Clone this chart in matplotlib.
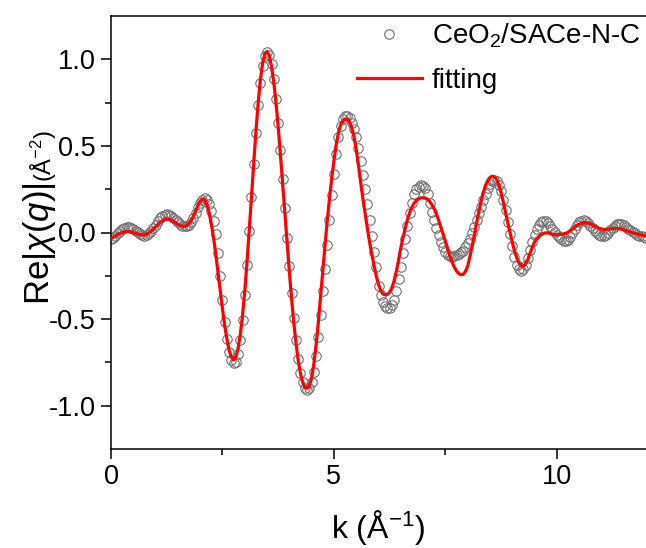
import numpy as np
import matplotlib
matplotlib.use("Agg")
import matplotlib.pyplot as plt

plt.rcParams["font.family"] = ["Liberation Sans", "DejaVu Sans"]
plt.rcParams["mathtext.fontset"] = "custom"
plt.rcParams["mathtext.rm"] = "Liberation Sans"
plt.rcParams["mathtext.it"] = "Liberation Sans:italic"

# k grid of the measured spectrum (0.05 A^-1 steps, 0..12)
k = np.round(np.arange(241) * 0.05, 2)

# measured Re|chi(q)| (open circles)
data = [
    -0.040, -0.032, -0.020, -0.005, 0.010, 0.020, 0.027, 0.030, 0.030, 0.025,
    0.018, 0.010, 0.002, -0.008, -0.016, -0.020, -0.015, -0.005, 0.008, 0.025,
    0.045, 0.065, 0.082, 0.095, 0.103, 0.106, 0.103, 0.095, 0.085, 0.073,
    0.060, 0.048, 0.040, 0.036, 0.038, 0.046, 0.060, 0.085, 0.115, 0.145,
    0.172, 0.190, 0.197, 0.190, 0.165, 0.125, 0.065, -0.010, -0.120, -0.250,
    -0.390, -0.515, -0.615, -0.690, -0.735, -0.755, -0.745, -0.700, -0.620, -0.505,
    -0.360, -0.185, 0.010, 0.205, 0.395, 0.575, 0.735, 0.865, 0.960, 1.020,
    1.040, 1.025, 0.970, 0.885, 0.770, 0.630, 0.475, 0.310, 0.140, -0.030,
    -0.195, -0.350, -0.495, -0.620, -0.730, -0.810, -0.865, -0.898, -0.908, -0.895,
    -0.865, -0.805, -0.715, -0.605, -0.475, -0.340, -0.210, -0.070, 0.075, 0.215,
    0.340, 0.455, 0.550, 0.615, 0.655, 0.670, 0.672, 0.660, 0.635, 0.600,
    0.550, 0.485, 0.410, 0.330, 0.250, 0.165, 0.075, -0.020, -0.110, -0.200,
    -0.310, -0.360, -0.400, -0.425, -0.435, -0.435, -0.420, -0.390, -0.340, -0.270,
    -0.200, -0.120, -0.040, 0.040, 0.110, 0.170, 0.220, 0.250, 0.265, 0.272,
    0.270, 0.255, 0.220, 0.170, 0.120, 0.070, 0.025, -0.015, -0.055, -0.085,
    -0.110, -0.128, -0.137, -0.140, -0.138, -0.132, -0.125, -0.115, -0.105, -0.085,
    -0.060, -0.035, -0.005, 0.030, 0.070, 0.110, 0.150, 0.190, 0.225, 0.255,
    0.280, 0.295, 0.302, 0.298, 0.275, 0.240, 0.190, 0.130, 0.060, -0.010,
    -0.080, -0.140, -0.185, -0.212, -0.222, -0.210, -0.185, -0.145, -0.100, -0.055,
    -0.015, 0.020, 0.045, 0.060, 0.066, 0.065, 0.055, 0.040, 0.022, 0.005,
    -0.012, -0.027, -0.040, -0.048, -0.050, -0.042, -0.025, -0.003, 0.020, 0.042,
    0.058, 0.068, 0.070, 0.066, 0.055, 0.040, 0.024, 0.010, -0.003, -0.013,
    -0.018, -0.018, -0.012, -0.002, 0.012, 0.028, 0.040, 0.047, 0.050, 0.048,
    0.042, 0.033, 0.022, 0.012, 0.003, -0.005, -0.012, -0.018, -0.023, -0.027,
    -0.030,
]

# fitted curve (red line), same k grid
fit = [
    -0.035, -0.028, -0.020, -0.012, -0.005, 0.000, 0.003, 0.005, 0.005, 0.003,
    -0.001, -0.005, -0.009, -0.012, -0.014, -0.014, -0.010, -0.002, 0.008, 0.020,
    0.033, 0.046, 0.058, 0.068, 0.075, 0.078, 0.077, 0.072, 0.065, 0.056,
    0.047, 0.040, 0.036, 0.035, 0.040, 0.052, 0.070, 0.095, 0.125, 0.155,
    0.180, 0.193, 0.190, 0.165, 0.115, 0.050, -0.030, -0.125, -0.230, -0.340,
    -0.440, -0.535, -0.615, -0.680, -0.720, -0.735, -0.720, -0.670, -0.590, -0.480,
    -0.340, -0.175, 0.010, 0.200, 0.395, 0.580, 0.745, 0.880, 0.975, 1.030,
    1.045, 1.020, 0.960, 0.870, 0.750, 0.610, 0.450, 0.280, 0.110, -0.060,
    -0.225, -0.380, -0.520, -0.640, -0.740, -0.815, -0.865, -0.893, -0.900, -0.885,
    -0.840, -0.760, -0.650, -0.520, -0.375, -0.225, -0.075, 0.065, 0.195, 0.310,
    0.415, 0.505, 0.575, 0.620, 0.645, 0.655, 0.656, 0.640, 0.605, 0.555,
    0.480, 0.390, 0.290, 0.195, 0.110, 0.025, -0.055, -0.125, -0.190, -0.250,
    -0.300, -0.335, -0.355, -0.360, -0.358, -0.345, -0.320, -0.280, -0.225, -0.160,
    -0.090, -0.030, 0.025, 0.075, 0.115, 0.145, 0.170, 0.185, 0.195, 0.200,
    0.200, 0.198, 0.192, 0.178, 0.160, 0.135, 0.105, 0.070, 0.030, -0.010,
    -0.050, -0.095, -0.135, -0.170, -0.200, -0.222, -0.237, -0.244, -0.242, -0.225,
    -0.195, -0.140, -0.080, -0.015, 0.055, 0.120, 0.180, 0.230, 0.270, 0.300,
    0.318, 0.325, 0.322, 0.305, 0.275, 0.230, 0.175, 0.115, 0.055, 0.000,
    -0.055, -0.105, -0.145, -0.175, -0.192, -0.195, -0.180, -0.155, -0.120, -0.085,
    -0.055, -0.035, -0.022, -0.012, -0.005, -0.002, -0.002, -0.005, -0.010, -0.013,
    -0.013, -0.012, -0.010, -0.008, -0.005, 0.002, 0.010, 0.020, 0.030, 0.040,
    0.048, 0.053, 0.056, 0.057, 0.055, 0.050, 0.043, 0.036, 0.030, 0.024,
    0.020, 0.018, 0.018, 0.019, 0.021, 0.023, 0.024, 0.024, 0.022, 0.019,
    0.015, 0.011, 0.007, 0.003, -0.001, -0.005, -0.009, -0.012, -0.015, -0.018,
    -0.020,
]

xticks = [0, 5, 10]
yticks = [-1.0, -0.5, 0.0, 0.5, 1.0]

fig = plt.figure(figsize=(6.46, 5.48), dpi=100)
ax = fig.add_axes([111 / 646, 1 - 449 / 548, 535 / 646, 433 / 548])

ax.plot(k, data, "o", ms=6.8, mfc="none", mec="#707070", mew=0.8,
        label="CeO$_2$/SACe-N-C", zorder=2)
ax.plot(k, fit, "-", color="#ff0000", lw=2.3, label="fitting", zorder=3)

ax.set_xlim(0, 12)
ax.set_ylim(-1.25, 1.25)
ax.set_xticks(xticks)
ax.set_yticks(yticks)
ax.set_xticks([2.5, 7.5], minor=True)
ax.set_yticks([-0.75, -0.25, 0.25, 0.75], minor=True)
ax.set_yticklabels([f"{v:.1f}" for v in yticks])
ax.tick_params(which="major", direction="out", length=7, width=1.1, labelsize=19.5, pad=4)
ax.tick_params(which="minor", direction="out", length=4, width=1.1)
ax.spines["right"].set_visible(False)
for s in ("left", "top", "bottom"):
    ax.spines[s].set_linewidth(1.1)

ax.set_xlabel(r"k ($\mathrm{\AA}^{-1}$)", fontsize=23, labelpad=13)

t1 = fig.text(40 / 646, 1 - 305 / 548, r"Re$|\chi(q)|$", rotation=90,
              ha="center", va="bottom", fontsize=25)
ax.annotate(r"($\mathrm{\AA}^{-2}$)", xy=(0.6, 1.0), xycoords=t1,
            rotation=90, ha="center", va="bottom", fontsize=17)

ax.legend(loc="upper right", bbox_to_anchor=(1.02, 1.025), frameon=False,
          fontsize=20, handlelength=2.35, handletextpad=0.35, labelspacing=0.62,
          borderaxespad=0.2)

fig.savefig("out.png", dpi=100)
